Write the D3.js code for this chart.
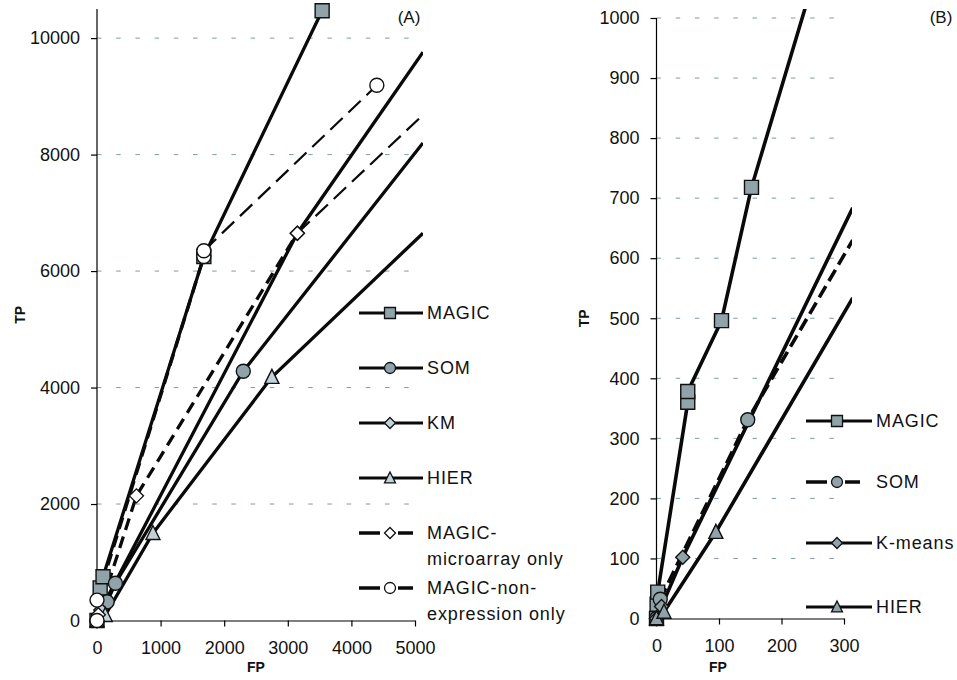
<!DOCTYPE html>
<html>
<head>
<meta charset="utf-8">
<script src="https://cdn.jsdelivr.net/npm/d3@7"></script>
<style>
  body { margin: 0; background: #fff; }
  text { font-family: "Liberation Sans", Arial, sans-serif; fill: #111; }
</style>
</head>
<body>
<div id="chart"></div>
<script>
// ---- panel A data (FP, TP) ----
const magicA  = [[0, 0], [50, 560], [95, 750], [1680, 6250], [3540, 10470]];
const somA    = [[0, 0], [160, 320], [290, 640], [2300, 4280], [5125, 8200]];
const kmA     = [[0, 0], [60, 180], [3150, 6650], [5125, 9760]];
const hierA   = [[0, 0], [130, 90], [880, 1500], [2750, 4180], [5125, 6650]];
const microA  = [[0, 0], [20, 100], [620, 2140], [3150, 6650], [5125, 8680]];
const nonexpA = [[0, 0], [0, 350], [1680, 6250], [1680, 6350], [4400, 9190]];
const xTicksA = [0, 1000, 2000, 3000, 4000, 5000];
const yTicksA = [0, 2000, 4000, 6000, 8000, 10000];

// ---- panel B data ----
const magicB  = [[0, 0], [1, 24], [2, 44], [50, 360], [50, 378], [104, 496], [152, 718], [238, 1017]];
const somB    = [[0, 0], [6, 32], [146, 331], [314, 630]];
const kmeansB = [[0, 0], [8, 20], [42, 102], [314, 684]];
const hierB   = [[0, 0], [12, 11], [95, 144], [314, 534]];
const xTicksB = [0, 100, 200, 300];
const yTicksB = [0, 100, 200, 300, 400, 500, 600, 700, 800, 900, 1000];

const gray = "#8fa3a9", light = "#c3d2d9", white = "#ffffff";

const width = 957, height = 680;
const svg = d3.select("#chart").append("svg")
    .attr("width", width)
    .attr("height", height);

function markerPath(shape, s) {
    if (shape === "square") return `M${-s/2},${-s/2}h${s}v${s}h${-s}Z`;
    if (shape === "circle") return d3.symbol(d3.symbolCircle, Math.PI * (s/2) * (s/2))();
    if (shape === "diamond") return `M0,${-s/2}L${s/2},0L0,${s/2}L${-s/2},0Z`;
    return `M0,${-s*0.55}L${s/2},${s*0.45}L${-s/2},${s*0.45}Z`;
}

function drawPanel(p) {
    const x = d3.scaleLinear().domain(p.xDomain).range(p.xRange);
    const y = d3.scaleLinear().domain(p.yDomain).range(p.yRange);
    const g = svg.append("g");

    g.append("clipPath").attr("id", p.id)
      .append("rect")
        .attr("x", p.xRange[0] - 12).attr("y", p.yRange[1] - 9)
        .attr("width", p.xRange[1] - p.xRange[0] + 20)
        .attr("height", p.yRange[0] - p.yRange[1] + 30);

    // dashed gridlines
    g.append("g").selectAll("line")
        .data(p.yTicks.filter(d => d > 0))
        .join("line")
        .attr("x1", p.xRange[0]).attr("x2", p.xRange[1])
        .attr("y1", d => y(d)).attr("y2", d => y(d))
        .attr("stroke", "#7f9ba5")
        .attr("stroke-width", 1)
        .attr("stroke-dasharray", "4.5,14.7");

    // axes
    const fmt = d3.format("d");
    const yAxis = g.append("g")
        .attr("transform", `translate(${p.xRange[0]},0)`)
        .call(d3.axisLeft(y).tickValues(p.yTicks).tickFormat(fmt)
            .tickSize(6).tickSizeOuter(0).tickPadding(11));
    const xAxis = g.append("g")
        .attr("transform", `translate(0,${p.yRange[0]})`)
        .call(d3.axisBottom(x).tickValues(p.xTicks).tickFormat(fmt)
            .tickSize(6).tickSizeOuter(0).tickPadding(15));
    [xAxis, yAxis].forEach(a => {
        a.selectAll("text").attr("font-size", 18).attr("fill", "#111")
            .style("font-family", "'Liberation Sans', Arial, sans-serif");
        a.selectAll("line, path").attr("stroke", "#000").attr("stroke-width", 1.2);
    });
    yAxis.select(".domain").attr("d", `M0,${p.yRange[0]}V${p.yRange[1]}`);

    // series lines
    const lines = g.append("g").attr("clip-path", `url(#${p.id})`);
    const line = d3.line().x(d => x(d[0])).y(d => y(d[1]));
    p.series.forEach(s => {
        const main = s.tail ? s.data.slice(0, s.tail + 1) : s.data;
        lines.append("path")
            .datum(main)
            .attr("fill", "none")
            .attr("stroke", "#0a0a0a")
            .attr("stroke-width", p.lineWidth)
            .attr("stroke-dasharray", s.dash || null)
            .attr("d", line);
        if (s.tail) {
            lines.append("path")
                .datum(s.data.slice(s.tail))
                .attr("fill", "none")
                .attr("stroke", "#0a0a0a")
                .attr("stroke-width", 2.2)
                .attr("stroke-dasharray", "17,8")
                .attr("d", line);
        }
    });

    // markers (only the ones inside the axis range)
    p.series.forEach(s => {
        g.append("g").selectAll("path")
            .data(s.data.filter(d => d[0] <= p.xDomain[1] && d[1] <= p.yDomain[1]))
            .join("path")
            .attr("transform", d => `translate(${x(d[0])},${y(d[1])})`)
            .attr("d", markerPath(s.shape, p.markerSize))
            .attr("fill", s.fill)
            .attr("stroke", "#111")
            .attr("stroke-width", 1.4);
    });

    // legend
    const leg = g.append("g");
    p.series.forEach((s, i) => {
        const ly = p.legendY[i];
        if (s.dash) {
            leg.append("line").attr("x1", p.legX[0]).attr("x2", p.legX[1] - 10)
                .attr("y1", ly).attr("y2", ly).attr("stroke", "#0a0a0a").attr("stroke-width", 3.5);
            leg.append("line").attr("x1", p.legX[1] + 8).attr("x2", p.legX[1] + 23)
                .attr("y1", ly).attr("y2", ly).attr("stroke", "#0a0a0a").attr("stroke-width", 3.5);
        } else {
            leg.append("line").attr("x1", p.legX[0]).attr("x2", p.legX[2])
                .attr("y1", ly).attr("y2", ly).attr("stroke", "#0a0a0a").attr("stroke-width", 3);
        }
        leg.append("path")
            .attr("transform", `translate(${p.legX[1]},${ly})`)
            .attr("d", markerPath(s.shape, p.legMarker))
            .attr("fill", s.fill)
            .attr("stroke", "#111")
            .attr("stroke-width", 1.3);
        s.label.forEach((t, k) => {
            leg.append("text")
                .attr("x", p.legX[2] + 4)
                .attr("y", ly + k * 26)
                .attr("dy", "0.36em")
                .attr("font-size", 18)
                .attr("letter-spacing", "0.9px")
                .text(t);
        });
    });

    // titles
    g.append("text")
        .attr("transform", `translate(${p.tpX},${(p.yRange[0] + p.yRange[1]) / 2}) rotate(-90)`)
        .attr("text-anchor", "middle").attr("dy", "0.36em")
        .attr("font-size", 14).attr("font-weight", "bold")
        .text("TP");
    g.append("text")
        .attr("x", p.fpX).attr("y", 667)
        .attr("text-anchor", "middle").attr("dy", "0.36em")
        .attr("font-size", 14).attr("font-weight", "bold")
        .text("FP");
    g.append("text")
        .attr("x", p.tagX).attr("y", 17)
        .attr("text-anchor", "middle").attr("dy", "0.36em")
        .attr("font-size", 17)
        .text(p.tag);
}

drawPanel({
    id: "clipA",
    xDomain: [0, 5000], xRange: [97, 415],
    yDomain: [0, 10500], yRange: [620.5, 9],
    xTicks: xTicksA, yTicks: yTicksA,
    lineWidth: 3.3, markerSize: 14, legMarker: 11,
    legX: [359, 390, 423],
    legendY: [313, 368, 423, 478, 533, 588],
    tpX: 20, fpX: 256, tagX: 409, tag: "(A)",
    series: [
        { label: ["MAGIC"], data: magicA, shape: "square", fill: gray },
        { label: ["SOM"], data: somA, shape: "circle", fill: gray },
        { label: ["KM"], data: kmA, shape: "diamond", fill: light },
        { label: ["HIER"], data: hierA, shape: "triangle", fill: light },
        { label: ["MAGIC-", "microarray only"], data: microA, shape: "diamond", fill: white, dash: "12,7", tail: 3 },
        { label: ["MAGIC-non-", "expression only"], data: nonexpA, shape: "circle", fill: white, dash: "12,7", tail: 3 }
    ]
});

drawPanel({
    id: "clipB",
    xDomain: [0, 300], xRange: [656.5, 844],
    yDomain: [0, 1000], yRange: [618.5, 18],
    xTicks: xTicksB, yTicks: yTicksB,
    lineWidth: 3.6, markerSize: 14, legMarker: 11,
    legX: [806, 837, 872],
    legendY: [421, 482, 543, 607],
    tpX: 584, fpX: 718, tagX: 941, tag: "(B)",
    series: [
        { label: ["MAGIC"], data: magicB, shape: "square", fill: gray },
        { label: ["SOM"], data: somB, shape: "circle", fill: gray, dash: "13,6" },
        { label: ["K-means"], data: kmeansB, shape: "diamond", fill: gray },
        { label: ["HIER"], data: hierB, shape: "triangle", fill: gray }
    ]
});
</script>
</body>
</html>
